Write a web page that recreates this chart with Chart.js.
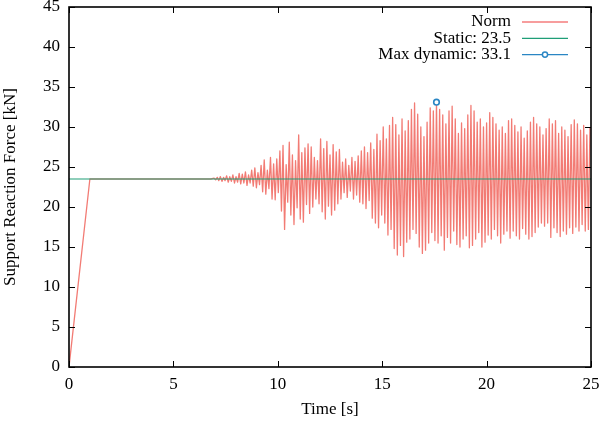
<!DOCTYPE html>
<html>
<head>
<meta charset="utf-8">
<script src="https://cdn.jsdelivr.net/npm/chart.js@4.4.1/dist/chart.umd.min.js"></script>
<style>
  html, body { margin: 0; padding: 0; background: #fff; }
  #wrap { width: 600px; height: 422px; }
</style>
</head>
<body>
<div id="wrap"><canvas id="forceChart" width="600" height="422"></canvas></div>
<script>
// ramp-up to the static load, then flat until the shaking starts
const rampTimes = [0, 1.0, 6.8];
const rampValues = [0, 23.5, 23.5];

const normStart = 6.95;
const normStep = 0.075;
const normValues = [
    23.6, 23.4, 23.7, 23.3, 23.8, 23.2, 23.7, 23.3, 23.9, 23.1,
    23.8, 23.2, 24.0, 23.0, 23.8, 23.1, 24.2, 22.9, 24.1, 23.0,
    24.4, 22.7, 24.0, 23.0, 24.6, 22.6, 24.9, 22.4, 24.3, 22.8,
    25.2, 21.9, 25.9, 21.6, 24.6, 22.3, 26.2, 21.0, 25.4, 20.9,
    26.0, 21.8, 27.0, 19.5, 27.7, 17.2, 25.3, 20.6, 28.1, 19.0,
    26.5, 17.8, 25.8, 19.9, 29.0, 18.5, 26.8, 18.1, 27.4, 20.3,
    27.9, 19.2, 27.5, 20.0, 26.2, 21.0, 25.8, 20.4, 28.5, 19.4,
    27.3, 18.5, 28.2, 20.1, 26.5, 19.0, 27.8, 19.6, 26.9, 20.4,
    27.2, 21.0, 25.6, 21.8, 26.0, 21.2, 25.2, 22.0, 26.2, 21.0,
    25.7, 21.5, 26.4, 20.6, 27.0, 20.4, 27.5, 19.8, 26.8, 20.8,
    28.0, 18.6, 27.2, 18.0, 29.1, 17.4, 28.3, 19.0, 30.0, 18.0,
    28.5, 16.5, 30.2, 17.2, 31.2, 14.8, 30.3, 14.0, 29.0, 15.2,
    31.0, 13.8, 29.5, 15.6, 30.8, 16.0, 32.2, 17.2, 33.0, 16.7,
    31.6, 15.0, 30.0, 14.2, 28.8, 14.6, 30.6, 15.5, 32.4, 16.8,
    32.0, 15.8, 33.1, 15.5, 32.2, 16.4, 31.5, 14.6, 30.4, 16.2,
    32.0, 15.5, 32.6, 17.0, 31.0, 15.3, 29.2, 15.0, 30.5, 16.0,
    29.8, 16.4, 31.5, 14.9, 32.7, 15.2, 32.0, 16.0, 30.6, 16.8,
    31.0, 15.0, 30.0, 15.6, 30.5, 16.5, 31.8, 16.0, 31.2, 17.2,
    30.4, 16.4, 29.6, 15.5, 30.0, 16.6, 29.2, 17.0, 30.8, 16.1,
    31.0, 17.0, 30.2, 16.4, 29.4, 16.0, 30.0, 17.3, 28.6, 16.6,
    29.5, 16.0, 30.6, 16.3, 31.2, 16.8, 30.4, 17.5, 30.0, 18.0,
    29.0, 17.6, 29.8, 18.0, 31.0, 16.2, 30.4, 17.4, 30.8, 16.8,
    29.2, 16.3, 30.0, 17.0, 29.6, 16.6, 28.8, 17.4, 30.3, 16.7,
    30.9, 17.5, 30.4, 17.0, 29.6, 17.8, 30.2, 17.0, 29.0, 17.2,
    30.0
];

const staticValue = 23.5;
const maxTime = 17.6;
const maxValue = 33.1;

const xMin = 0, xMax = 25, xStep = 5;
const yMin = 0, yMax = 45, yStep = 5;

const serif = '"Liberation Serif", "Times New Roman", serif';

const normData = rampTimes.map((t, i) => ({ x: t, y: rampValues[i] }));
normValues.forEach((v, i) => {
    normData.push({ x: normStart + i * normStep, y: v });
});

const legendItems = [
    { label: 'Norm', color: '#f47c7c', marker: false },
    { label: 'Static: ' + staticValue.toFixed(1), color: '#1f9e77', marker: false },
    { label: 'Max dynamic: ' + maxValue.toFixed(1), color: '#2a86c4', marker: true }
];

// gnuplot style key: text right aligned, sample line on the right
const keyPlugin = {
    id: 'keyPlugin',
    afterDraw(chart) {
        const ctx = chart.ctx;
        ctx.save();
        ctx.font = '17px ' + serif;
        ctx.textAlign = 'right';
        ctx.textBaseline = 'middle';
        legendItems.forEach((item, i) => {
            const y = 22 + i * 16.3;
            ctx.fillStyle = '#000';
            ctx.fillText(item.label, 511, y);
            ctx.strokeStyle = item.color;
            ctx.lineWidth = 1.3;
            ctx.beginPath();
            ctx.moveTo(522, y);
            ctx.lineTo(568, y);
            ctx.stroke();
            if (item.marker) {
                ctx.fillStyle = '#fff';
                ctx.beginPath();
                ctx.arc(545, y, 2.6, 0, Math.PI * 2);
                ctx.fill();
                ctx.lineWidth = 1.5;
                ctx.stroke();
            }
        });
        ctx.restore();
    }
};

// border and inward ticks on all four sides
const framePlugin = {
    id: 'framePlugin',
    afterDraw(chart) {
        const { ctx, chartArea: a, scales } = chart;
        ctx.save();
        ctx.strokeStyle = '#000';
        ctx.lineWidth = 1;
        ctx.beginPath();
        scales.x.ticks.forEach(t => {
            const px = Math.round(scales.x.getPixelForValue(t.value)) + 0.5;
            ctx.moveTo(px, a.bottom); ctx.lineTo(px, a.bottom - 6);
            ctx.moveTo(px, a.top); ctx.lineTo(px, a.top + 6);
        });
        scales.y.ticks.forEach(t => {
            const py = Math.round(scales.y.getPixelForValue(t.value)) + 0.5;
            ctx.moveTo(a.left, py); ctx.lineTo(a.left + 6, py);
            ctx.moveTo(a.right, py); ctx.lineTo(a.right - 6, py);
        });
        ctx.stroke();
        ctx.lineWidth = 1.6;
        ctx.strokeRect(a.left, a.top, a.right - a.left, a.bottom - a.top);
        ctx.restore();
    }
};

const ctxForce = document.getElementById('forceChart').getContext('2d');
const forceChart = new Chart(ctxForce, {
    type: 'line',
    data: {
        datasets: [{
            label: 'Norm',
            data: normData,
            borderColor: 'rgba(232, 28, 16, 0.58)',
            borderWidth: 1.3,
            borderJoinStyle: 'round',
            pointRadius: 0,
            tension: 0,
            order: 3
        }, {
            label: 'Static',
            data: [{ x: xMin, y: staticValue }, { x: xMax, y: staticValue }],
            borderColor: '#1f9e77',
            borderWidth: 1.2,
            pointRadius: 0,
            order: 1
        }, {
            label: 'Max dynamic',
            data: [{ x: maxTime, y: maxValue }],
            showLine: false,
            borderColor: '#2a86c4',
            backgroundColor: '#ffffff',
            pointRadius: 2.8,
            pointBorderWidth: 1.6,
            order: 0
        }]
    },
    options: {
        responsive: false,
        animation: false,
        parsing: false,
        normalized: true,
        layout: { padding: { top: 7, right: 9, left: 0, bottom: 0 } },
        plugins: {
            legend: { display: false },
            tooltip: { enabled: false }
        },
        scales: {
            x: {
                type: 'linear',
                min: xMin,
                max: xMax,
                grid: { display: false, drawTicks: false },
                border: { display: false },
                ticks: {
                    stepSize: xStep,
                    color: '#000',
                    padding: 7,
                    maxRotation: 0,
                    font: { family: serif, size: 17 }
                },
                title: {
                    display: true,
                    text: 'Time [s]',
                    color: '#000',
                    padding: 2,
                    font: { family: serif, size: 17 }
                },
                afterFit: s => { s.height = 55; s.paddingLeft = 0; s.paddingRight = 0; }
            },
            y: {
                type: 'linear',
                min: yMin,
                max: yMax,
                grid: { display: false, drawTicks: false },
                border: { display: false },
                ticks: {
                    stepSize: yStep,
                    color: '#000',
                    padding: 9,
                    font: { family: serif, size: 17 }
                },
                title: {
                    display: true,
                    text: 'Support Reaction Force [kN]',
                    color: '#000',
                    padding: 0,
                    font: { family: serif, size: 17 }
                },
                afterFit: s => { s.width = 69; s.paddingTop = 0; s.paddingBottom = 0; }
            }
        }
    },
    plugins: [framePlugin, keyPlugin]
});
</script>
</body>
</html>
